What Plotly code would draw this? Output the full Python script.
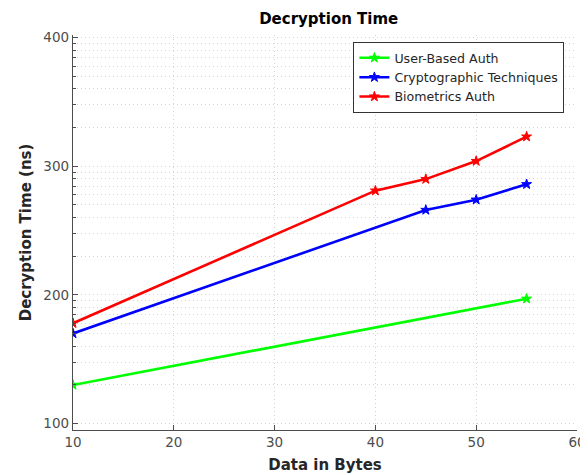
import math
import plotly.graph_objects as go

# ---- data ----
user_x = [10, 55]
user_y = [130, 197]

crypto_x = [10, 45, 50, 55]
crypto_y = [170, 266, 274, 286]

bio_x = [10, 40, 45, 50, 55]
bio_y = [178, 281, 290, 304, 323]

x_ticks = [10, 20, 30, 40, 50, 60]
y_ticks = [100, 200, 300, 400]

series = [
    ("User-Based Auth", user_x, user_y, "#00ff00"),
    ("Cryptographic Techniques", crypto_x, crypto_y, "#0000ff"),
    ("Biometrics Auth", bio_x, bio_y, "#ff0000"),
]

# minor grid (log-like spacing within each 100 interval, as in the reference)
minor_y = []
for base in [100, 200, 300]:
    for m in range(2, 10):
        minor_y.append(base + 100 * math.log10(m))

fig = go.Figure()
for name, xs, ys, col in series:
    fig.add_trace(go.Scatter(
        x=xs, y=ys, name=name, mode="lines+markers",
        line=dict(color=col, width=2.6),
        marker=dict(symbol="star", size=7.5, color=col,
                    line=dict(color=col, width=1)),
    ))

axis_col = "#4d4d4d"
grid_col = "#d4d4d4"
font_fam = "DejaVu Sans"
dash = "1px,3px"

# the page body adds an 8px offset, so the figure is 8px smaller
fig.update_layout(
    width=580, height=467,
    margin=dict(l=65, r=11, t=27, b=45),
    paper_bgcolor="white", plot_bgcolor="white",
    font=dict(family=font_fam, color="#262626"),
    title=dict(text="<b>Decryption Time</b>", x=0.553, xanchor="center",
               y=0.977, yanchor="middle",
               font=dict(size=15, color="#000000", family=font_fam)),
    showlegend=True,
    legend=dict(x=0.975, y=0.982, xanchor="right", yanchor="top",
                bgcolor="white", bordercolor="#333333", borderwidth=1,
                font=dict(size=12.6, color="#262626", family=font_fam),
                tracegroupgap=0, itemwidth=30),
)

fig.update_xaxes(
    range=[10, 60], tickvals=x_ticks, ticktext=[str(v) for v in x_ticks],
    automargin=False,
    showline=True, linecolor=axis_col, linewidth=1.3,
    ticks="inside", ticklen=5, tickcolor=axis_col,
    tickfont=dict(size=13.5, color="#4d4d4d", family=font_fam),
    showgrid=True, gridcolor=grid_col, griddash=dash, gridwidth=1,
    zeroline=False, mirror=False,
    title=dict(text="<b>Data in Bytes</b>", standoff=10,
               font=dict(size=15, color="#262626", family=font_fam)),
)
fig.update_yaxes(
    range=[95, 402], tickvals=y_ticks, ticktext=[str(v) for v in y_ticks],
    automargin=False,
    showline=True, linecolor=axis_col, linewidth=1.3,
    ticks="inside", ticklen=5, tickcolor=axis_col,
    tickfont=dict(size=13.5, color="#4d4d4d", family=font_fam),
    showgrid=True, gridcolor=grid_col, griddash=dash, gridwidth=1,
    zeroline=False, mirror=False,
    minor=dict(tickmode="array", tickvals=minor_y, showgrid=True,
               gridcolor=grid_col, griddash=dash, gridwidth=1,
               ticks="inside", ticklen=3, tickcolor=axis_col),
    title=dict(text="<b>Decryption Time (ns)</b>", standoff=8,
               font=dict(size=15, color="#262626", family=font_fam)),
)

fig.write_html("out.html")
